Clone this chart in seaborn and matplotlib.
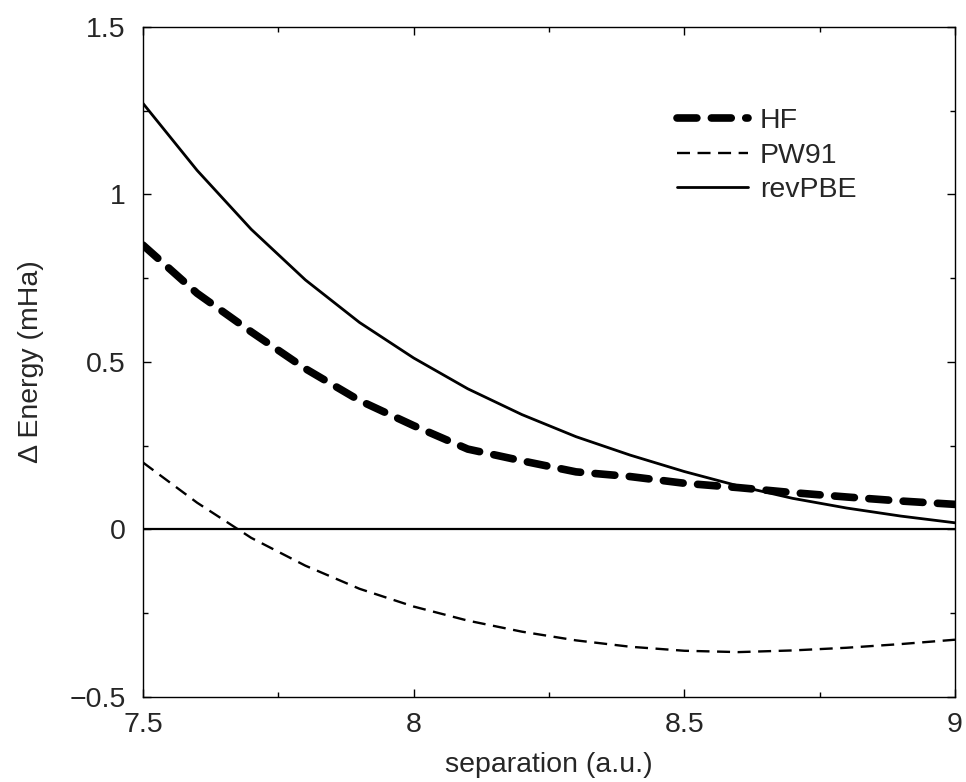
import matplotlib
matplotlib.use("Agg")
import matplotlib.pyplot as plt
import seaborn as sns
import pandas as pd
from matplotlib.ticker import MultipleLocator

separation = [7.5, 7.6, 7.7, 7.8, 7.9, 8.0, 8.1, 8.2, 8.3, 8.4, 8.5, 8.6, 8.7, 8.8, 8.9, 9.0]
hf = [0.849, 0.705, 0.59, 0.48, 0.385, 0.31, 0.24, 0.205, 0.172, 0.158, 0.138, 0.125, 0.11, 0.097, 0.085, 0.075]
pw91 = [0.2, 0.08, -0.025, -0.108, -0.177, -0.23, -0.272, -0.305, -0.331, -0.35, -0.362, -0.366, -0.361, -0.353, -0.342, -0.329]
revpbe = [1.272, 1.072, 0.896, 0.745, 0.618, 0.512, 0.42, 0.343, 0.277, 0.222, 0.173, 0.13, 0.093, 0.064, 0.04, 0.02]
series_names = ["HF", "PW91", "revPBE"]
x_ticks = [7.5, 8, 8.5, 9]
x_ticklabels = ["7.5", "8", "8.5", "9"]
y_ticks = [-0.5, 0, 0.5, 1, 1.5]
y_ticklabels = ["\u22120.5", "0", "0.5", "1", "1.5"]

sns.set_style("ticks")
plt.rcParams['font.family'] = ['Liberation Sans', 'DejaVu Sans']
FS = 20.5

fig = plt.figure(figsize=(9.66, 7.82), dpi=100)
ax = fig.add_axes([0.148, 0.1087, 0.8406, 0.8568])

df = pd.DataFrame({
    "separation": separation * 3,
    "energy": hf + pw91 + revpbe,
    "method": [series_names[0]] * len(hf) + [series_names[1]] * len(pw91) + [series_names[2]] * len(revpbe),
})

styles = {
    "HF": dict(lw=5.5, dashes=(2.6, 1.9), cap="round"),
    "PW91": dict(lw=1.7, dashes=(5.5, 3.2), cap="butt"),
    "revPBE": dict(lw=2.0, dashes=None, cap="butt"),
}
for name in series_names:
    sub = df[df["method"] == name]
    st = styles[name]
    sns.lineplot(data=sub, x="separation", y="energy", ax=ax, color="black",
                 lw=st["lw"], label=name, estimator=None, sort=True)
    ln = ax.get_lines()[-1]
    if st["dashes"]:
        ln.set_dashes(st["dashes"])
    ln.set_dash_capstyle(st["cap"])
    ln.set_solid_joinstyle("round")

ax.axhline(0, color="black", lw=1.6)

ax.set_xlim(7.5, 9)
ax.set_ylim(-0.5, 1.5)
ax.xaxis.set_minor_locator(MultipleLocator(0.25))
ax.yaxis.set_minor_locator(MultipleLocator(0.25))
ax.set_xticks(x_ticks)
ax.set_xticklabels(x_ticklabels)
ax.set_yticks(y_ticks)
ax.set_yticklabels(y_ticklabels)
ax.tick_params(which="both", direction="in", top=True, right=True, labelsize=FS, width=1, color="black")
ax.tick_params(which="major", length=6)
ax.tick_params(which="minor", length=3.5)
ax.tick_params(axis="x", which="major", pad=11)
ax.tick_params(axis="y", which="major", pad=12.5)
for s in ax.spines.values():
    s.set_visible(True)
    s.set_linewidth(1.0)
    s.set_color("black")

ax.set_xlabel("separation (a.u.)", fontsize=FS, labelpad=10)
ax.set_ylabel("\u0394 Energy (mHa)", fontsize=FS, labelpad=18)

leg = ax.legend(loc="upper left", bbox_to_anchor=(0.658, 0.879), frameon=False, fontsize=FS,
                handlelength=2.5, handletextpad=0.4, labelspacing=0.3,
                borderpad=0, borderaxespad=0)

fig.savefig("out.png", dpi=100)
